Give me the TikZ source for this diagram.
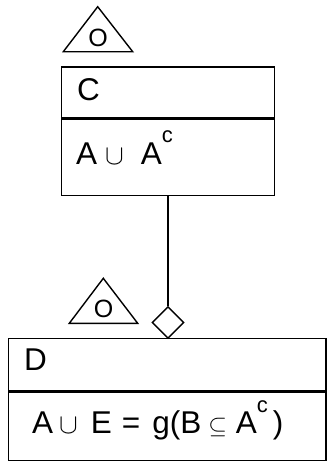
\documentclass[tikz,border=0pt]{standalone}
\usepackage{fontspec}
\setmainfont{Liberation Sans}
\usetikzlibrary{shapes.geometric}
\tikzstyle{box}=[draw,line width=1.4pt,inner sep=0pt]
\tikzstyle{txt}=[anchor=base west,inner sep=0pt,font=\fontsize{31.5}{33}\selectfont]
\tikzstyle{tag}=[inner sep=0pt,font=\fontsize{25}{26}\selectfont]
\tikzstyle{tri}=[line width=1.4pt,line join=miter]
\tikzstyle{link}=[line width=1.4pt]
\newcommand{\supc}[1]{\raisebox{#1}{\fontsize{22}{22}\selectfont c}}
\newcommand{\bigcupsym}{\scalebox{2.8}{\fontsize{10}{12}\selectfont$\cup$}}
\newcommand{\bigsubsym}{\scalebox{2.4}{\fontsize{10}{12}\selectfont$\subseteq$}}

\begin{document}
\begin{tikzpicture}[x=1pt,y=-1pt]
    \useasboundingbox (0,0) rectangle (327,461);
    % class C
    \node[box,minimum width=212.6pt,minimum height=51pt] (Chead) at (168,92.5) {};
    \node[box,minimum width=212.6pt,minimum height=76.3pt,anchor=north] (Cbody) at (Chead.south) {};
    \node[txt] (Cname) at (77,100.5) {C};
    \node[txt] (Cexpr) at (76,164) {A\hspace{8pt}\bigcupsym\hspace{17pt}A\supc{22pt}};
    \node[tag] (Cmark) at (98,37.5) {O};
    \draw[tri] (97.7,6.7) -- (132.7,51.7) -- (63.3,51.7) -- cycle;
    % class D
    \node[box,minimum width=317.3pt,minimum height=52.4pt] (Dhead) at (167.4,364.5) {};
    \node[box,minimum width=317.3pt,minimum height=68.8pt,anchor=north] (Dbody) at (Dhead.south) {};
    \node[txt] (Dname) at (24,370.5) {D};
    \node[txt] (Dexpr) at (32,433) {A\hspace{6pt}\bigcupsym\hspace{13pt}E\hspace{10pt}=\hspace{12pt}g(B\hspace{7pt}\bigsubsym\hspace{9pt}A\supc{21pt}\hspace{5pt})};
    \node[tag] (Dmark) at (103.5,309) {O};
    \draw[tri] (103.3,278.3) -- (137.7,323.3) -- (69.3,323.3) -- cycle;
    % aggregation
    \node[diamond,draw,line width=1.4pt,inner sep=0pt,minimum width=32pt,minimum height=32pt] (agg) at (168,322.5) {};
    \draw[link] (Cbody.south) -- (agg.north);
\end{tikzpicture}
\end{document}
